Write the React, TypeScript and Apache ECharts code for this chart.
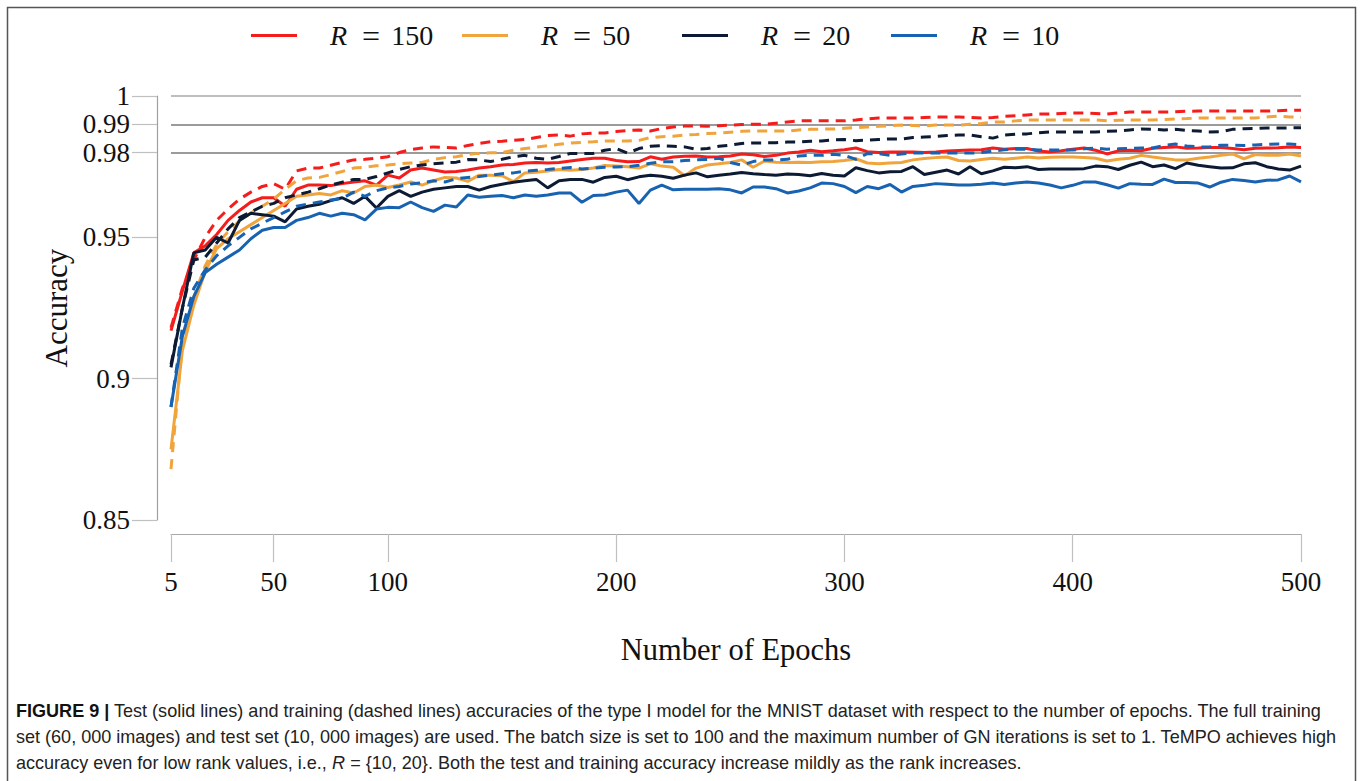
import React, { useEffect, useRef } from "react";
import * as echarts from "echarts";

// Epochs sampled every 5 epochs (5 .. 500)
const epochs: number[] = Array.from({ length: 100 }, (_, i) => 5 + i * 5);
const xTicks = [5, 50, 100, 200, 300, 400, 500];
const yTicks = [0.85, 0.9, 0.95, 0.98, 0.99, 1];
const refLines = [1, 0.99, 0.98];
const legendNames = ["R = 150", "R = 50", "R = 20", "R = 10"];

// Test accuracy (solid lines)
const testR150 = [
  0.917, 0.931, 0.9445, 0.947, 0.951, 0.956, 0.9595, 0.9625, 0.964, 0.964,
  0.961, 0.967, 0.9685, 0.9685, 0.9683, 0.969, 0.9696, 0.97, 0.9685, 0.972,
  0.971, 0.9738, 0.9745, 0.9738, 0.9731, 0.9733, 0.9738, 0.9745, 0.975, 0.9756,
  0.9758, 0.9763, 0.9765, 0.9763, 0.9765, 0.977, 0.9775, 0.978, 0.978, 0.9772,
  0.9767, 0.9768, 0.9785, 0.9776, 0.9784, 0.9787, 0.9788, 0.9784, 0.9785, 0.9788,
  0.9795, 0.9792, 0.9786, 0.979, 0.9798, 0.9802, 0.9808, 0.9803, 0.9806, 0.981,
  0.9816, 0.9803, 0.98, 0.9802, 0.9802, 0.9802, 0.98, 0.9802, 0.9805, 0.9807,
  0.9809, 0.981, 0.9816, 0.9812, 0.9814, 0.9814, 0.9805, 0.9802, 0.9806, 0.9812,
  0.9816, 0.9808, 0.9795, 0.9806, 0.9808, 0.9806, 0.9815, 0.9818, 0.982, 0.9815,
  0.9816, 0.9818, 0.9818, 0.9814, 0.981, 0.9815, 0.9816, 0.9817, 0.982, 0.9818,
];
const testR50 = [
  0.875, 0.91, 0.926, 0.938, 0.946, 0.9495, 0.952, 0.9545, 0.957, 0.9595,
  0.962, 0.9645, 0.965, 0.9655, 0.965, 0.9665, 0.9657, 0.968, 0.9685, 0.9676,
  0.9685, 0.9696, 0.9685, 0.97, 0.9712, 0.971, 0.9698, 0.972, 0.972, 0.9718,
  0.9697, 0.9728, 0.973, 0.9735, 0.974, 0.9737, 0.974, 0.9745, 0.9754, 0.9752,
  0.975, 0.9745, 0.976, 0.9752, 0.9748, 0.9718, 0.9745, 0.9756, 0.976, 0.9765,
  0.9774, 0.9748, 0.977, 0.9766, 0.9765, 0.9766, 0.9765, 0.9767, 0.9768, 0.9772,
  0.9778, 0.9763, 0.976, 0.9763, 0.9765, 0.9774, 0.9779, 0.9782, 0.9784, 0.9772,
  0.977, 0.9775, 0.978, 0.9776, 0.978, 0.9784, 0.9781, 0.9783, 0.9784, 0.9784,
  0.9782, 0.978, 0.977, 0.9776, 0.978, 0.979, 0.9784, 0.9779, 0.9774, 0.9774,
  0.978, 0.9784, 0.979, 0.9795, 0.9778, 0.9793, 0.979, 0.979, 0.9795, 0.9788,
];
const testR20 = [
  0.904, 0.925, 0.9445, 0.9455, 0.95, 0.948, 0.956, 0.9585, 0.958, 0.9575,
  0.9555, 0.96, 0.961, 0.9617, 0.963, 0.964, 0.962, 0.9645, 0.9604, 0.9645,
  0.9665, 0.9645, 0.966, 0.967, 0.9675, 0.968, 0.968, 0.9667, 0.968, 0.9688,
  0.9695, 0.97, 0.9705, 0.9675, 0.97, 0.9705, 0.9705, 0.9695, 0.9712, 0.9716,
  0.9704, 0.9714, 0.972, 0.9716, 0.9709, 0.972, 0.9728, 0.9714, 0.972, 0.9724,
  0.9729, 0.9725, 0.9722, 0.972, 0.9724, 0.9722, 0.9718, 0.9726, 0.972, 0.9717,
  0.9746, 0.9736, 0.9728, 0.9732, 0.9733, 0.975, 0.9722, 0.973, 0.9738, 0.9724,
  0.975, 0.9725, 0.9735, 0.9748, 0.9746, 0.975, 0.974, 0.9742, 0.9742, 0.9742,
  0.9743, 0.9752, 0.975, 0.974, 0.9755, 0.9766, 0.975, 0.9756, 0.9743, 0.9763,
  0.9755, 0.975, 0.9745, 0.9746, 0.976, 0.9764, 0.975, 0.9742, 0.9738, 0.9752,
];
const testR10 = [
  0.89, 0.915, 0.929, 0.9375, 0.9405, 0.943, 0.9455, 0.9495, 0.9525, 0.9535,
  0.9535, 0.956, 0.957, 0.9585, 0.9575, 0.9585, 0.958, 0.9562, 0.96, 0.9606,
  0.9605, 0.9625, 0.9605, 0.9592, 0.9614, 0.9607, 0.965, 0.9642, 0.9645, 0.9648,
  0.964, 0.965, 0.9645, 0.965, 0.9657, 0.9657, 0.9624, 0.9648, 0.965, 0.966,
  0.9667, 0.962, 0.9667, 0.9685, 0.9668, 0.967, 0.967, 0.967, 0.9672, 0.9668,
  0.9657, 0.9678, 0.9678, 0.9672, 0.9657, 0.9664, 0.9675, 0.9692, 0.969, 0.968,
  0.9658, 0.968, 0.9672, 0.9687, 0.966, 0.968, 0.9684, 0.969, 0.9688, 0.9685,
  0.9685, 0.9688, 0.9692, 0.9687, 0.9692, 0.9696, 0.9692, 0.9685, 0.9675, 0.9684,
  0.9696, 0.9696, 0.9686, 0.9674, 0.969, 0.9688, 0.9687, 0.9706, 0.9694, 0.9694,
  0.9692, 0.9678, 0.9695, 0.9705, 0.9701, 0.9696, 0.9702, 0.9703, 0.9717, 0.9696,
];

// Training accuracy (dashed lines)
const trainR150 = [
  0.918, 0.932, 0.942, 0.95, 0.956, 0.96, 0.9635, 0.966, 0.968, 0.969,
  0.967, 0.9735, 0.9745, 0.9745, 0.9755, 0.9765, 0.9774, 0.9776, 0.978, 0.9785,
  0.98, 0.981, 0.9816, 0.982, 0.9818, 0.9816, 0.9825, 0.9832, 0.9838, 0.984,
  0.9843, 0.9846, 0.9853, 0.986, 0.9862, 0.9858, 0.9866, 0.9869, 0.9869, 0.9874,
  0.9878, 0.988, 0.9876, 0.9885, 0.989, 0.9894, 0.9894, 0.9893, 0.9895, 0.9897,
  0.9899, 0.99, 0.99, 0.9904, 0.9908, 0.9912, 0.9912, 0.9912, 0.9912, 0.9912,
  0.9915, 0.9919, 0.9922, 0.9922, 0.9922, 0.9922, 0.9924, 0.9926, 0.9926, 0.9926,
  0.9924, 0.9922, 0.9924, 0.9928, 0.993, 0.9933, 0.9936, 0.9936, 0.9938, 0.994,
  0.994, 0.9938, 0.9936, 0.994, 0.9943, 0.9943, 0.9943, 0.9943, 0.9944, 0.9946,
  0.9947, 0.9947, 0.9947, 0.9947, 0.9947, 0.9947, 0.9947, 0.9948, 0.995, 0.995,
];
const trainR50 = [
  0.868, 0.913, 0.929, 0.94, 0.9475, 0.952, 0.9558, 0.9586, 0.961, 0.9635,
  0.967, 0.97, 0.971, 0.9712, 0.9722, 0.9733, 0.9745, 0.9748, 0.9753, 0.9756,
  0.976, 0.9763, 0.9765, 0.9776, 0.9782, 0.9785, 0.9793, 0.9797, 0.9799, 0.98,
  0.9808, 0.9814, 0.9819, 0.9824, 0.9829, 0.9834, 0.9836, 0.9838, 0.9841, 0.9841,
  0.9841, 0.9843, 0.9853, 0.9856, 0.9858, 0.9862, 0.9864, 0.9867, 0.9869, 0.9872,
  0.9875, 0.9876, 0.9876, 0.9876, 0.9876, 0.988, 0.9882, 0.9883, 0.9883, 0.9886,
  0.9888, 0.989, 0.9893, 0.9895, 0.9897, 0.9896, 0.9894, 0.9897, 0.9897, 0.9897,
  0.99, 0.9903, 0.9908, 0.9908, 0.9912, 0.9915, 0.9915, 0.9915, 0.9915, 0.9915,
  0.9915, 0.9915, 0.9912, 0.9914, 0.9915, 0.9915, 0.9915, 0.9917, 0.9919, 0.992,
  0.9922, 0.9922, 0.9922, 0.9922, 0.9922, 0.9922, 0.9926, 0.9929, 0.9926, 0.9924,
];
const trainR20 = [
  0.905, 0.925, 0.942, 0.943, 0.948, 0.953, 0.957, 0.959, 0.961, 0.962,
  0.964, 0.965, 0.966, 0.9672, 0.9685, 0.9695, 0.9705, 0.9705, 0.9715, 0.9728,
  0.974, 0.975, 0.9756, 0.976, 0.9763, 0.9766, 0.9775, 0.9774, 0.9768, 0.9776,
  0.9785, 0.979, 0.978, 0.9776, 0.9786, 0.9797, 0.9796, 0.9797, 0.9808, 0.9814,
  0.9798, 0.9814, 0.9822, 0.9824, 0.9822, 0.982, 0.9812, 0.9814, 0.9822, 0.9826,
  0.9832, 0.9834, 0.9834, 0.9835, 0.9837, 0.9837, 0.984, 0.9841, 0.9845, 0.9846,
  0.9842, 0.9844, 0.9846, 0.9848, 0.9848, 0.9853, 0.9855, 0.9857, 0.986, 0.9862,
  0.9862, 0.9856, 0.9851, 0.9862, 0.9865, 0.9866, 0.987, 0.9873, 0.9873, 0.9873,
  0.9873, 0.9873, 0.9875, 0.9876, 0.988, 0.9883, 0.9882, 0.988, 0.9882, 0.9878,
  0.9876, 0.9873, 0.9874, 0.9882, 0.9884, 0.9885, 0.9887, 0.9887, 0.9887, 0.9888,
];
const trainR10 = [
  0.89, 0.918, 0.932, 0.9385, 0.9435, 0.947, 0.95, 0.953, 0.955, 0.957,
  0.959, 0.961, 0.9618, 0.9625, 0.9632, 0.9638, 0.966, 0.9645, 0.9665, 0.9675,
  0.968, 0.9689, 0.9693, 0.97, 0.9696, 0.9707, 0.9712, 0.9715, 0.972, 0.9725,
  0.9728, 0.9734, 0.9737, 0.974, 0.9744, 0.9747, 0.9742, 0.9745, 0.9748, 0.9749,
  0.975, 0.9755, 0.9762, 0.9767, 0.9767, 0.9772, 0.9774, 0.9775, 0.978, 0.9765,
  0.9755, 0.9768, 0.9774, 0.9774, 0.9776, 0.9788, 0.979, 0.979, 0.9794, 0.979,
  0.9776, 0.9796, 0.9796, 0.979, 0.9795, 0.9798, 0.9798, 0.9798, 0.9798, 0.9798,
  0.9798, 0.98, 0.9805, 0.981, 0.9812, 0.9812, 0.9809, 0.9809, 0.9809, 0.9809,
  0.9813, 0.9816, 0.9812, 0.9813, 0.9815, 0.9816, 0.9816, 0.9825, 0.983, 0.9823,
  0.982, 0.982, 0.9826, 0.9826, 0.9825, 0.9827, 0.9829, 0.983, 0.983, 0.9828,
];

const captionLines = [
  "{b|FIGURE 9 |} Test (solid lines) and training (dashed lines) accuracies of the type I model for the MNIST dataset with respect to the number of epochs. The full training",
  "set (60, 000 images) and test set (10, 000 images) are used. The batch size is set to 100 and the maximum number of GN iterations is set to 1. TeMPO achieves high",
  "accuracy even for low rank values, i.e., {it|R} = {10, 20}. Both the test and training accuracy increase mildly as the rank increases.",
];

const COLORS = ["#f51c1c", "#f0a43b", "#0c1a33", "#1862b2"];
const SERIF = "'Liberation Serif', 'Times New Roman', serif";
const SANS = "'Liberation Sans', Arial, sans-serif";

export default function App() {
  const ref = useRef<HTMLDivElement>(null);

  useEffect(() => {
    document.body.style.margin = "0";
    if (!ref.current) return;
    const chart = echarts.init(ref.current, undefined, { renderer: "svg" });

    // measure caption to fit the condensed width of the original
    const cv = document.createElement("canvas").getContext("2d")!;
    cv.font = "bold 18px 'Liberation Sans'";
    const wBold = cv.measureText("FIGURE 9 |").width;
    cv.font = "18px 'Liberation Sans'";
    const wRest = cv.measureText(
      " Test (solid lines) and training (dashed lines) accuracies of the type I model for the MNIST dataset with respect to the number of epochs. The full training"
    ).width;
    const capScale = 1307 / (wBold + wRest);

    const tests = [testR150, testR50, testR20, testR10];
    const trains = [trainR150, trainR50, trainR20, trainR10];
    const series: any[] = [];
    legendNames.forEach((name, k) => {
      series.push({
        name,
        type: "line",
        data: epochs.map((e, i) => [e, tests[k][i]]),
        symbol: "none",
        showSymbol: false,
        silent: true,
        z: 3,
        itemStyle: { color: COLORS[k] },
        lineStyle: { color: COLORS[k], width: 3, type: "solid" },
        ...(k === 0
          ? {
              markLine: {
                silent: true,
                symbol: "none",
                label: { show: false },
                z: 1,
                data: refLines.map((v) => ({
                  yAxis: v,
                  lineStyle: { color: v === 1 ? "#a8a8a8" : "#7a7a7a", width: 1.5, type: "solid" },
                })),
              },
            }
          : {}),
      });
      series.push({
        name: name + " (training)",
        type: "line",
        data: epochs.map((e, i) => [e, trains[k][i]]),
        symbol: "none",
        showSymbol: false,
        silent: true,
        z: 3,
        itemStyle: { color: COLORS[k] },
        lineStyle: { color: COLORS[k], width: 3, type: [10, 7] },
      });
    });

    const legendLeft = [251, 462, 682, 891];
    const legends = legendNames.map((name, k) => ({
      data: [name],
      left: legendLeft[k],
      top: 19.5,
      padding: 0,
      icon: "rect",
      itemWidth: 46,
      itemHeight: 3,
      selectedMode: false,
      formatter: (n: string) => `{i|R}{e| = }{t|${n.slice(4)}}`,
      textStyle: {
        color: "#111",
        fontFamily: SERIF,
        fontSize: 28,
        rich: {
          i: { fontFamily: SERIF, fontSize: 28, fontStyle: "italic", color: "#111", padding: [0, 7, 0, 28] },
          e: { fontFamily: SERIF, fontSize: 32, color: "#111" },
          t: { fontFamily: SERIF, fontSize: 28, color: "#111", padding: [0, 0, 0, 3] },
        },
      },
    }));

    const option: any = {
      animation: false,
      backgroundColor: "#ffffff",
      legend: legends,
      grid: { left: 171, right: 59, top: 96, bottom: 261, containLabel: false },
      xAxis: {
        type: "value",
        min: 5,
        max: 500,
        offset: 14,
        name: "Number of Epochs",
        nameLocation: "middle",
        nameGap: 100,
        nameTextStyle: { fontFamily: SERIF, fontSize: 30.5, color: "#111" },
        axisLine: { show: true, lineStyle: { color: "#a8a8a8", width: 1.2 } },
        axisTick: { show: true, customValues: xTicks, length: 28, lineStyle: { color: "#c0c0c0", width: 1.2 } },
        axisLabel: { customValues: xTicks, margin: 34, fontFamily: SERIF, fontSize: 27, color: "#111" },
        splitLine: { show: false },
      },
      yAxis: {
        type: "value",
        min: 0.85,
        max: 1,
        offset: 14,
        name: "Accuracy",
        nameLocation: "middle",
        nameGap: 85,
        nameTextStyle: { fontFamily: SERIF, fontSize: 31, color: "#111" },
        axisLine: { show: true, lineStyle: { color: "#a0a0a0", width: 1.2 } },
        axisTick: { show: true, customValues: yTicks, length: 25, lineStyle: { color: "#c0c0c0", width: 1.2 } },
        axisLabel: {
          customValues: yTicks,
          margin: 27,
          fontFamily: SERIF,
          fontSize: 27,
          color: "#111",
          formatter: (v: number) => String(Math.round(v * 100) / 100),
        },
        splitLine: { show: false },
      },
      graphic: [
        {
          type: "rect",
          silent: true,
          shape: { x: 7.5, y: 7.5, width: 1348, height: 820 },
          style: { fill: "none", stroke: "#555", lineWidth: 1.5 },
        },
        ...captionLines.map((line, i) => ({
          type: "text",
          silent: true,
          x: 16,
          y: 711 + i * 26,
          scaleX: capScale,
          style: {
            text: line,
            fontFamily: SANS,
            fontSize: 18,
            fill: "#222",
            verticalAlign: "middle",
            rich: {
              b: { fontFamily: SANS, fontSize: 18, fontWeight: "bold", fill: "#111", verticalAlign: "middle" },
              it: { fontFamily: SANS, fontSize: 18, fontStyle: "italic", fill: "#222", verticalAlign: "middle" },
            },
          },
        })),
      ],
      series,
    };

    chart.setOption(option);
    return () => chart.dispose();
  }, []);

  return <div ref={ref} style={{ width: 1360, height: 781 }} />;
}
